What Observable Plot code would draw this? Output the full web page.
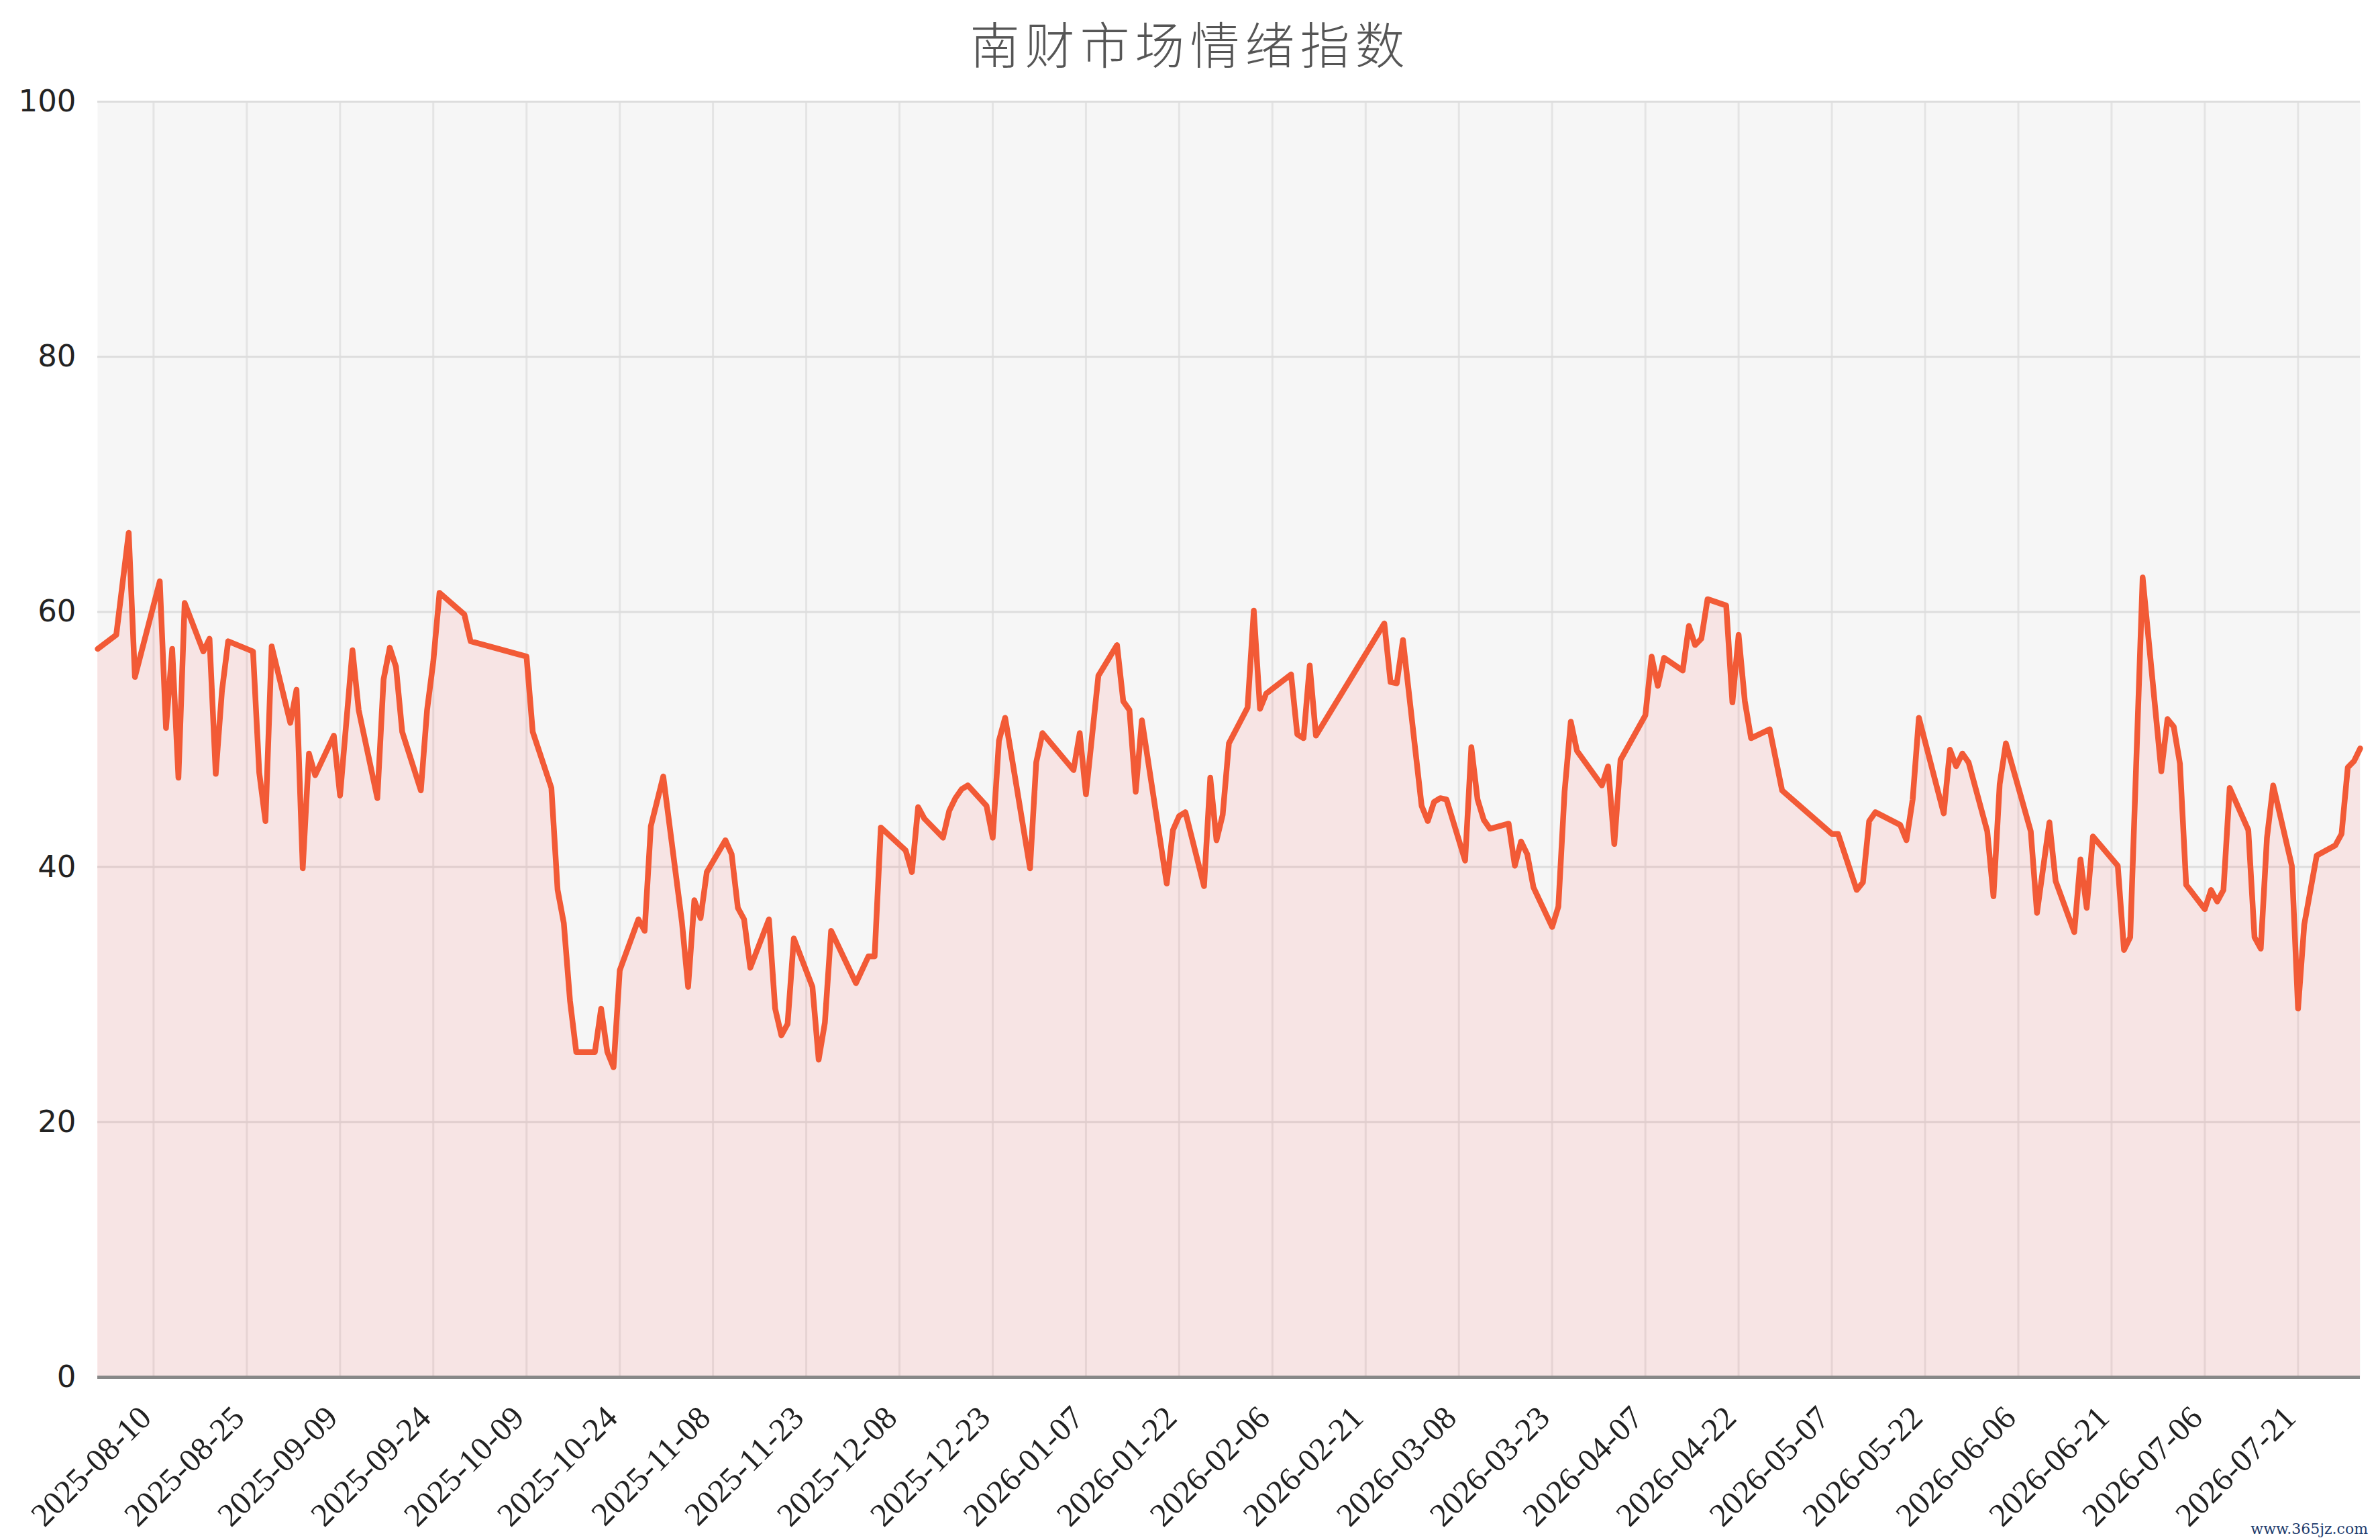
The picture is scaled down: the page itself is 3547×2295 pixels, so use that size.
<!DOCTYPE html>
<html>
<head>
<meta charset="utf-8">
<script src="https://cdn.jsdelivr.net/npm/d3@7"></script>
<script src="https://cdn.jsdelivr.net/npm/@observablehq/plot@0.6"></script>
<style>
  html, body { margin: 0; padding: 0; background: #ffffff; }
  #wrap { position: relative; width: 3547px; height: 2295px; overflow: hidden; background: #fff; }
  #title { height: 100px; line-height: 126px; text-align: center; font-family: "Noto Sans CJK SC", sans-serif;
           font-size: 74px; font-weight: 300; color: #555; letter-spacing: 8px; overflow: visible; }
  #chart svg { overflow: visible; display: block; }
  #mark { position: absolute; right: 18px; bottom: 4px; font-family: "DejaVu Serif", serif; font-size: 22px; color: #1d3b6c; }
  .xax text { font-family: "Liberation Serif", "DejaVu Serif", serif; }
  .yax text { font-family: "DejaVu Sans", sans-serif; }
</style>
</head>
<body>
<div id="wrap">
  <div id="title">南财市场情绪指数</div>
  <div id="chart"></div>
  <div id="mark">www.365jz.com</div>
</div>
<script>
// trading dates (grouped by month)
const dates = [
  "2025-08-01","2025-08-04","2025-08-06","2025-08-07","2025-08-11","2025-08-12","2025-08-13","2025-08-14","2025-08-15","2025-08-18","2025-08-19","2025-08-20","2025-08-21","2025-08-22","2025-08-26","2025-08-27","2025-08-28","2025-08-29",
  "2025-09-01","2025-09-02","2025-09-03","2025-09-04","2025-09-05","2025-09-08","2025-09-09","2025-09-11","2025-09-12","2025-09-15","2025-09-16","2025-09-17","2025-09-18","2025-09-19","2025-09-22","2025-09-23","2025-09-24","2025-09-25","2025-09-29","2025-09-30",
  "2025-10-09","2025-10-10","2025-10-13","2025-10-14","2025-10-15","2025-10-16","2025-10-17","2025-10-20","2025-10-21","2025-10-22","2025-10-23","2025-10-24","2025-10-27","2025-10-28","2025-10-29","2025-10-31",
  "2025-11-03","2025-11-04","2025-11-05","2025-11-06","2025-11-07","2025-11-10","2025-11-11","2025-11-12","2025-11-13","2025-11-14","2025-11-17","2025-11-18","2025-11-19","2025-11-20","2025-11-21","2025-11-24","2025-11-25","2025-11-26","2025-11-27",
  "2025-12-01","2025-12-03","2025-12-04","2025-12-05","2025-12-09","2025-12-10","2025-12-11","2025-12-12","2025-12-15","2025-12-16","2025-12-17","2025-12-18","2025-12-19","2025-12-22","2025-12-23","2025-12-24","2025-12-25","2025-12-26","2025-12-29","2025-12-30","2025-12-31",
  "2026-01-05","2026-01-06","2026-01-07","2026-01-09","2026-01-12","2026-01-13","2026-01-14","2026-01-15","2026-01-16","2026-01-20","2026-01-21","2026-01-22","2026-01-23","2026-01-26","2026-01-27","2026-01-28","2026-01-29","2026-01-30",
  "2026-02-02","2026-02-03","2026-02-04","2026-02-05","2026-02-09","2026-02-10","2026-02-11","2026-02-12","2026-02-13","2026-02-24","2026-02-25","2026-02-26","2026-02-27",
  "2026-03-02","2026-03-03","2026-03-04","2026-03-05","2026-03-06","2026-03-09","2026-03-10","2026-03-11","2026-03-12","2026-03-13","2026-03-16","2026-03-17","2026-03-18","2026-03-19","2026-03-20","2026-03-23","2026-03-24","2026-03-25","2026-03-26","2026-03-27","2026-03-31",
  "2026-04-01","2026-04-02","2026-04-03","2026-04-07","2026-04-08","2026-04-09","2026-04-10","2026-04-13","2026-04-14","2026-04-15","2026-04-16","2026-04-17","2026-04-20","2026-04-21","2026-04-22","2026-04-23","2026-04-24","2026-04-27","2026-04-29",
  "2026-05-07","2026-05-08","2026-05-11","2026-05-12","2026-05-13","2026-05-14","2026-05-18","2026-05-19","2026-05-20","2026-05-21","2026-05-25","2026-05-26","2026-05-27","2026-05-28","2026-05-29",
  "2026-06-01","2026-06-02","2026-06-03","2026-06-04","2026-06-08","2026-06-09","2026-06-11","2026-06-12","2026-06-15","2026-06-16","2026-06-17","2026-06-18","2026-06-22","2026-06-23","2026-06-24","2026-06-26","2026-06-29","2026-06-30",
  "2026-07-01","2026-07-02","2026-07-03","2026-07-06","2026-07-07","2026-07-08","2026-07-09","2026-07-10","2026-07-13","2026-07-14","2026-07-15","2026-07-16","2026-07-17","2026-07-20","2026-07-21","2026-07-22","2026-07-24","2026-07-27","2026-07-28","2026-07-29","2026-07-30","2026-07-31"
];
// index values (same grouping)
const values = [
  57.1,58.2,66.2,54.9,62.4,50.9,57.1,47.0,60.7,56.9,57.9,47.3,53.8,57.7,56.9,47.4,43.6,57.3,
  51.3,53.9,39.9,48.9,47.2,50.3,45.6,57.0,52.3,45.4,54.7,57.2,55.7,50.6,46.0,52.3,56.1,61.5,59.8,57.7,
  56.5,50.6,46.2,38.2,35.6,29.5,25.5,25.5,28.9,25.5,24.3,31.9,35.9,35.0,43.2,47.1,
  35.7,30.6,37.4,36.0,39.6,42.1,41.0,36.8,35.9,32.1,35.9,28.9,26.8,27.7,34.4,30.6,24.9,27.8,35.0,
  30.9,33.0,33.0,43.1,41.3,39.6,44.7,43.8,42.3,44.4,45.4,46.1,46.4,44.8,42.3,49.9,51.7,48.8,39.9,48.2,50.5,
  47.6,50.5,45.7,55.0,57.4,53.0,52.3,45.9,51.5,38.7,42.9,44.0,44.3,38.5,47.0,42.1,44.1,49.7,
  52.5,60.1,52.4,53.6,55.1,50.4,50.1,55.8,50.3,59.1,54.5,54.4,57.8,
  44.8,43.6,45.1,45.4,45.3,40.5,49.4,45.3,43.7,43.0,43.4,40.1,42.0,41.0,38.4,35.3,36.9,45.9,51.4,49.1,46.4,
  47.9,41.8,48.4,51.9,56.5,54.2,56.4,55.4,58.9,57.4,57.9,61.0,60.5,52.9,58.2,53.0,50.1,50.8,46.0,
  42.6,42.6,38.2,38.8,43.6,44.3,43.3,42.1,45.3,51.7,44.2,49.2,47.9,48.9,48.2,
  42.8,37.7,46.5,49.7,42.8,36.4,43.5,38.9,34.9,40.6,36.8,42.4,40.1,33.5,34.5,62.7,47.5,51.6,
  51.0,48.1,38.6,36.7,38.2,37.3,38.2,46.2,42.9,34.5,33.6,42.3,46.4,40.1,28.9,35.5,40.9,41.7,42.6,47.8,48.3,49.3
];
const tickLabels = [
  "2025-08-10","2025-08-25","2025-09-09","2025-09-24","2025-10-09","2025-10-24","2025-11-08","2025-11-23",
  "2025-12-08","2025-12-23","2026-01-07","2026-01-22","2026-02-06","2026-02-21","2026-03-08","2026-03-23",
  "2026-04-07","2026-04-22","2026-05-07","2026-05-22","2026-06-06","2026-06-21","2026-07-06","2026-07-21"
];
const yTicks = [0, 20, 40, 60, 80, 100];

const parse = s => new Date(s + "T00:00:00Z");
const data = dates.map((d, i) => ({date: parse(d), value: values[i]}));
const xTicks = tickLabels.map(parse);

const chart = Plot.plot({
  width: 3547,
  height: 2195,
  marginTop: 51,
  marginRight: 30,
  marginBottom: 243,
  marginLeft: 145,
  style: {background: "transparent", fontFamily: "DejaVu Sans", color: "#222", overflow: "visible"},
  x: {type: "utc", domain: [data[0].date, data[data.length - 1].date]},
  y: {domain: [0, 100]},
  marks: [
    Plot.frame({fill: "#f6f6f6", stroke: null}),
    Plot.ruleX(xTicks, {stroke: "#e4e4e4", strokeWidth: 3}),
    Plot.ruleY(yTicks.filter(v => v > 0), {stroke: "#dddddd", strokeWidth: 3}),
    Plot.areaY(data, {x: "date", y: "value", fill: "#ff4848", fillOpacity: 0.1}),
    Plot.lineY(data, {x: "date", y: "value", stroke: "#f25a36", strokeWidth: 8.5, strokeLinejoin: "round", strokeLinecap: "round"}),
    Plot.ruleY([0], {stroke: "#888888", strokeWidth: 5}),
    Plot.axisY({ticks: yTicks, tickSize: 0, tickPadding: 32, fontSize: 45, label: null, fill: "#222", className: "yax"}),
    Plot.axisX({ticks: xTicks, tickFormat: d3.utcFormat("%Y-%m-%d"), tickRotate: -45, tickSize: 0, tickPadding: 52, dx: -12,
                fontSize: 49, fontFamily: "Liberation Serif", label: null, fill: "#222", className: "xax"})
  ]
});
document.getElementById("chart").appendChild(chart);
</script>
</body>
</html>
